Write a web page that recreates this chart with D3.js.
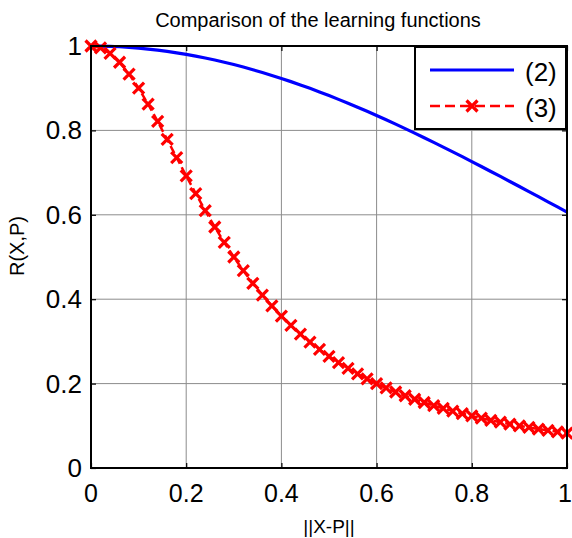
<!DOCTYPE html>
<html><head><meta charset="utf-8">
<script src="https://cdn.jsdelivr.net/npm/d3@7"></script>
<style>body{margin:0;background:#fff}svg{display:block}text{font-family:Arial,"Liberation Sans",sans-serif;fill:#000}</style>
</head><body><svg id="c" width="572" height="538"></svg>
<script>
const xValues = [0,0.02,0.04,0.06,0.08,0.10,0.12,0.14,0.16,0.18,0.20,0.22,0.24,0.26,0.28,0.30,0.32,0.34,0.36,0.38,0.40,0.42,0.44,0.46,0.48,0.50,0.52,0.54,0.56,0.58,0.60,0.62,0.64,0.66,0.68,0.70,0.72,0.74,0.76,0.78,0.80,0.82,0.84,0.86,0.88,0.90,0.92,0.94,0.96,0.98,1.00];
const series2 = [1,0.9998,0.9992,0.9982,0.9968,0.9950,0.9928,0.9902,0.9873,0.9839,0.9802,0.9761,0.9716,0.9668,0.9616,0.9560,0.9501,0.9438,0.9373,0.9303,0.9231,0.9156,0.9077,0.8996,0.8912,0.8825,0.8735,0.8643,0.8549,0.8452,0.8353,0.8251,0.8148,0.8043,0.7936,0.7827,0.7717,0.7605,0.7492,0.7377,0.7261,0.7144,0.7027,0.6909,0.6790,0.6670,0.6549,0.6429,0.6308,0.6187,0.6065];
const series3 = [1,0.9956,0.9825,0.9615,0.9336,0.9000,0.8621,0.8212,0.7785,0.7353,0.6923,0.6503,0.6098,0.5711,0.5344,0.5000,0.4678,0.4377,0.4098,0.3840,0.3600,0.3378,0.3173,0.2984,0.2809,0.2647,0.2497,0.2358,0.2230,0.2111,0.2000,0.1897,0.1801,0.1712,0.1629,0.1552,0.1479,0.1412,0.1348,0.1289,0.1233,0.1180,0.1131,0.1085,0.1041,0.1000,0.0961,0.0924,0.0890,0.0857,0.0826];
const tickValues = [0,0.2,0.4,0.6,0.8,1];
const tickLabels = ["0","0.2","0.4","0.6","0.8","1"];
const seriesNames = ["(2)","(3)"];
const titleText = "Comparison of the learning functions";
const xLabel = "||X-P||";
const yLabel = "R(X,P)";

const svg = d3.select("#c");
const L=91, R=567, T=46, B=468;
const x = d3.scaleLinear().domain([0,1]).range([L,R]);
const y = d3.scaleLinear().domain([0,1]).range([B,T]);

// grid
const g = svg.append("g");
g.selectAll(".gx").data(tickValues.slice(1,-1)).enter().append("line")
  .attr("x1",d=>x(d)).attr("x2",d=>x(d)).attr("y1",T).attr("y2",B)
  .attr("stroke","#8c8c8c").attr("stroke-width",1);
g.selectAll(".gy").data(tickValues.slice(1,-1)).enter().append("line")
  .attr("y1",d=>y(d)).attr("y2",d=>y(d)).attr("x1",L).attr("x2",R)
  .attr("stroke","#8c8c8c").attr("stroke-width",1);

// axes with inward ticks
const ax = d3.axisBottom(x).tickValues(tickValues).tickSize(-5).tickFormat("");
const ay = d3.axisLeft(y).tickValues(tickValues).tickSize(-5).tickFormat("");
const axT = d3.axisTop(x).tickValues(tickValues).tickSize(-5).tickFormat("");
const ayR = d3.axisRight(y).tickValues(tickValues).tickSize(-5).tickFormat("");
[[ax,`translate(0,${B})`],[ay,`translate(${L},0)`],[axT,`translate(0,${T})`],[ayR,`translate(${R},0)`]].forEach(([a,t])=>{
  const gg = svg.append("g").attr("transform",t).call(a);
  gg.select(".domain").remove();
  gg.selectAll("line").attr("stroke","#000").attr("stroke-width",1.2);
});

// tick labels
svg.selectAll(".xl").data(tickValues).enter().append("text")
  .attr("x",(d,i)=>i===tickValues.length-1 ? x(d)-2 : x(d)).attr("y",B+34).attr("text-anchor","middle")
  .style("font-size","25px").text((d,i)=>tickLabels[i]);
svg.selectAll(".yl").data(tickValues).enter().append("text")
  .attr("x",L-9).attr("y",d=>y(d)+9).attr("text-anchor","end")
  .style("font-size","26px").text((d,i)=>tickLabels[i]);

// lines
const line = d3.line().x((d,i)=>x(xValues[i])).y(d=>y(d));
svg.append("path").datum(series2).attr("d",line).attr("fill","none")
  .attr("stroke","#0000ff").attr("stroke-width",3.2);
svg.append("path").datum(series3).attr("d",line).attr("fill","none")
  .attr("stroke","#ff0000").attr("stroke-width",2.5).attr("stroke-dasharray","8,4");
const ms = 5.5;
const cross = (sel, cx, cy) => sel.append("path")
  .attr("d",`M${cx-ms},${cy-ms}L${cx+ms},${cy+ms}M${cx-ms},${cy+ms}L${cx+ms},${cy-ms}`)
  .attr("stroke","#ff0000").attr("stroke-width",3.2).attr("fill","none");
const mk = svg.append("g");
series3.forEach((v,i)=>cross(mk, x(xValues[i]), y(v)));

// box
svg.append("rect").attr("x",L).attr("y",T).attr("width",R-L).attr("height",B-T)
  .attr("fill","none").attr("stroke","#000").attr("stroke-width",2);

// legend
const lg = svg.append("g");
lg.append("rect").attr("x",415).attr("y",47).attr("width",151).attr("height",82)
  .attr("fill","#fff").attr("stroke","#000").attr("stroke-width",2);
lg.append("line").attr("x1",430).attr("x2",514).attr("y1",70).attr("y2",70)
  .attr("stroke","#0000ff").attr("stroke-width",3.2);
lg.append("line").attr("x1",430).attr("x2",514).attr("y1",106).attr("y2",106)
  .attr("stroke","#ff0000").attr("stroke-width",2.5).attr("stroke-dasharray","10,5");
cross(lg, 472, 106);
lg.selectAll(".lt").data(seriesNames).enter().append("text")
  .attr("x",525).attr("y",(d,i)=>81+i*36).style("font-size","26px").text(d=>d);

// title and labels
svg.append("text").attr("x",318).attr("y",27).attr("text-anchor","middle")
  .style("font-size","20px").text(titleText);
svg.append("text").attr("x",(L+R)/2).attr("y",533).attr("text-anchor","middle")
  .style("font-size","19px").text(xLabel);
svg.append("text").attr("transform","translate(24,246) rotate(-90)").attr("text-anchor","middle")
  .style("font-size","20px").text(yLabel);
</script></body></html>
